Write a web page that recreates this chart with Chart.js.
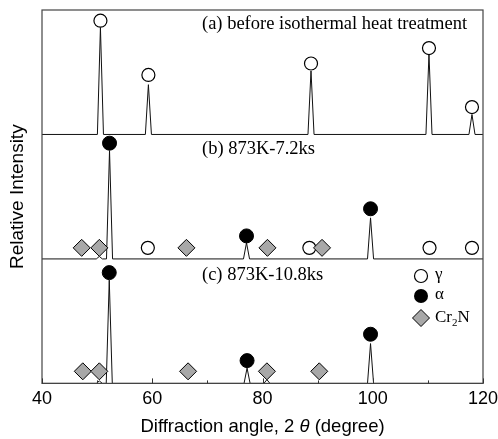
<!DOCTYPE html>
<html>
<head>
<meta charset="utf-8">
<script src="https://cdn.jsdelivr.net/npm/chart.js@4.4.1/dist/chart.umd.min.js"></script>
<style>
  html, body { margin: 0; padding: 0; background: #fff; }
  #wrap { width: 498px; height: 439px; }
</style>
</head>
<body>
<div id="wrap"><canvas id="xrdChart"></canvas></div>
<script>
/* Data */
const xTicks = [40, 60, 80, 100, 120];
const minorTicks = [50, 70, 90, 110];
const panelLabels = ['(a) before isothermal heat treatment', '(b) 873K-7.2ks', '(c) 873K-10.8ks'];
const panelOffsets = [2, 1, 0];

// peak positions (2 theta) and heights (fraction of one panel)
const peaksA_pos = [50.6, 59.3, 88.8, 110.2, 118.0];
const peaksA_h = [0.86, 0.40, 0.51, 0.645, 0.16];
const peaksB_pos = [50.4, 52.25, 77.1, 99.6];
const peaksB_h = [0.02, 0.87, 0.13, 0.33];
const peaksC_pos = [50.4, 52.2, 77.2, 80.8, 99.6];
const peaksC_h = [0.02, 0.83, 0.123, 0.03, 0.32];

// phase markers
const gammaA_x = [50.6, 59.3, 88.8, 110.2, 118.0];
const gammaA_y = [0.914, 0.478, 0.57, 0.694, 0.22];
const gammaB_x = [59.2, 88.5, 110.3, 118.0];
const gammaB_y = [0.089, 0.089, 0.089, 0.089];
const alphaB_x = [52.25, 77.1, 99.6];
const alphaB_y = [0.93, 0.185, 0.403];
const cr2nB_x = [47.2, 50.4, 66.2, 80.9, 90.8];
const cr2nB_y = [0.089, 0.089, 0.089, 0.089, 0.089];
const alphaC_x = [52.2, 77.2, 99.6];
const alphaC_y = [0.89, 0.183, 0.395];
const cr2nC_x = [47.4, 50.4, 66.5, 80.8, 90.3];
const cr2nC_y = [0.097, 0.097, 0.097, 0.097, 0.097];

const PEAK_HALF = 0.55;

function trace(pos, h, off) {
    const pts = [{x: 40, y: off}];
    for (let i = 0; i < pos.length; i++) {
        pts.push({x: pos[i] - PEAK_HALF, y: off});
        pts.push({x: pos[i], y: off + h[i]});
        pts.push({x: pos[i] + PEAK_HALF, y: off});
    }
    pts.push({x: 120, y: off});
    return pts;
}

function markers(xs, ys, off) {
    return xs.map((x, i) => ({x: x, y: off + ys[i]}));
}

function lineSet(data) {
    return {
        type: 'line', data: data, borderColor: '#111', borderWidth: 1,
        pointRadius: 0, tension: 0, fill: false, order: 5
    };
}

const gammaStyle = {pointStyle: 'circle', pointRadius: 6.5, backgroundColor: '#fff', borderColor: '#000', borderWidth: 1.2};
const alphaStyle = {pointStyle: 'circle', pointRadius: 7, backgroundColor: '#000', borderColor: '#000', borderWidth: 1};
const cr2nStyle = {pointStyle: 'rectRot', pointRadius: 8.5, backgroundColor: '#a8a8a8', borderColor: '#000', borderWidth: 1};

function markerSet(data, style, order) {
    return Object.assign({type: 'scatter', data: data, showLine: false, order: order}, style,
        {pointHoverRadius: style.pointRadius});
}

const SERIF = '"Liberation Serif", "Times New Roman", serif';
const SANS = '"Liberation Sans", Arial, sans-serif';

/* Draw frame, inner ticks, panel texts, legend and axis titles */
const decorations = {
    id: 'decorations',
    afterDraw(chart) {
        const ctx = chart.ctx;
        const a = chart.chartArea;
        const xs = chart.scales.x;
        ctx.save();
        ctx.strokeStyle = '#444';
        ctx.lineWidth = 1.2;
        ctx.strokeRect(a.left, a.top, a.right - a.left, a.bottom - a.top);

        ctx.lineWidth = 1;
        ctx.strokeStyle = '#333';
        xTicks.forEach(v => {
            const px = Math.round(xs.getPixelForValue(v)) + 0.5;
            ctx.beginPath(); ctx.moveTo(px, a.bottom); ctx.lineTo(px, a.bottom - 5); ctx.stroke();
        });
        minorTicks.forEach(v => {
            const px = Math.round(xs.getPixelForValue(v)) + 0.5;
            ctx.beginPath(); ctx.moveTo(px, a.bottom); ctx.lineTo(px, a.bottom - 3); ctx.stroke();
        });

        // panel labels
        const ys = chart.scales.y;
        ctx.fillStyle = '#000';
        ctx.font = '18.5px ' + SERIF;
        ctx.textBaseline = 'alphabetic';
        ctx.textAlign = 'left';
        const labelTop = [0.847, 0.847, 0.83];
        panelLabels.forEach((t, i) => {
            ctx.fillText(t, a.left + 160, ys.getPixelForValue(panelOffsets[i] + labelTop[i]));
        });

        // legend
        const lx = a.left + 379;
        const ly = [a.top + 266, a.top + 286, a.top + 308];
        ctx.lineWidth = 1.2;
        ctx.beginPath(); ctx.arc(lx, ly[0], 6.5, 0, Math.PI * 2);
        ctx.fillStyle = '#fff'; ctx.fill(); ctx.strokeStyle = '#000'; ctx.stroke();
        ctx.beginPath(); ctx.arc(lx, ly[1], 7, 0, Math.PI * 2);
        ctx.fillStyle = '#000'; ctx.fill();
        ctx.beginPath();
        ctx.moveTo(lx, ly[2] - 8.5); ctx.lineTo(lx + 8.5, ly[2]);
        ctx.lineTo(lx, ly[2] + 8.5); ctx.lineTo(lx - 8.5, ly[2]); ctx.closePath();
        ctx.fillStyle = '#a8a8a8'; ctx.fill(); ctx.lineWidth = 1; ctx.stroke();

        ctx.fillStyle = '#000';
        ctx.textBaseline = 'middle';
        const tx = lx + 14;
        ctx.font = '17px ' + SERIF;
        ctx.fillText('\u03b3', tx, ly[0] - 1);
        ctx.fillText('\u03b1', tx, ly[1] - 1);
        ctx.fillText('Cr', tx, ly[2]);
        let w = ctx.measureText('Cr').width;
        ctx.font = '11px ' + SERIF;
        ctx.fillText('2', tx + w, ly[2] + 5);
        w += ctx.measureText('2').width;
        ctx.font = '17px ' + SERIF;
        ctx.fillText('N', tx + w, ly[2]);

        // x title with italic theta
        const parts = [
            ['Diffraction angle, 2 ', '18.5px ' + SANS],
            ['\u03b8', 'italic 18.5px ' + SANS],
            [' (degree)', '18.5px ' + SANS]
        ];
        let total = 0;
        parts.forEach(p => { ctx.font = p[1]; total += ctx.measureText(p[0]).width; });
        let cx = (a.left + a.right) / 2 - total / 2;
        ctx.textBaseline = 'middle';
        parts.forEach(p => { ctx.font = p[1]; ctx.fillText(p[0], cx, 427); cx += ctx.measureText(p[0]).width; });

        // y title
        ctx.save();
        ctx.translate(18, (a.top + a.bottom) / 2);
        ctx.rotate(-Math.PI / 2);
        ctx.textAlign = 'center';
        ctx.font = '19px ' + SANS;
        ctx.fillText('Relative Intensity', 0, 0);
        ctx.restore();

        ctx.restore();
    }
};

const my_chart = new Chart('xrdChart', {
    type: 'scatter',
    data: {
        datasets: [
            lineSet(trace(peaksA_pos, peaksA_h, panelOffsets[0])),
            lineSet(trace(peaksB_pos, peaksB_h, panelOffsets[1])),
            lineSet(trace(peaksC_pos, peaksC_h, panelOffsets[2])),
            markerSet(markers(gammaA_x, gammaA_y, panelOffsets[0]), gammaStyle, 3),
            markerSet(markers(gammaB_x, gammaB_y, panelOffsets[1]), gammaStyle, 3),
            markerSet(markers(cr2nB_x, cr2nB_y, panelOffsets[1]), cr2nStyle, 2),
            markerSet(markers(alphaB_x, alphaB_y, panelOffsets[1]), alphaStyle, 1),
            markerSet(markers(cr2nC_x, cr2nC_y, panelOffsets[2]), cr2nStyle, 2),
            markerSet(markers(alphaC_x, alphaC_y, panelOffsets[2]), alphaStyle, 1)
        ]
    },
    options: {
        responsive: true,
        maintainAspectRatio: false,
        animation: false,
        layout: { padding: { left: 42, right: 15, top: 10, bottom: 32 } },
        scales: {
            x: {
                type: 'linear',
                min: 40,
                max: 120,
                grid: { display: false },
                border: { display: false },
                afterBuildTicks: (axis) => { axis.ticks = xTicks.map(v => ({value: v})); },
                ticks: {
                    padding: -3,
                    color: '#000',
                    font: { family: SANS, size: 18 }
                }
            },
            y: {
                display: false,
                min: 0,
                max: 3
            }
        },
        plugins: {
            legend: { display: false },
            tooltip: { enabled: false }
        }
    },
    plugins: [decorations]
});
</script>
</body>
</html>
